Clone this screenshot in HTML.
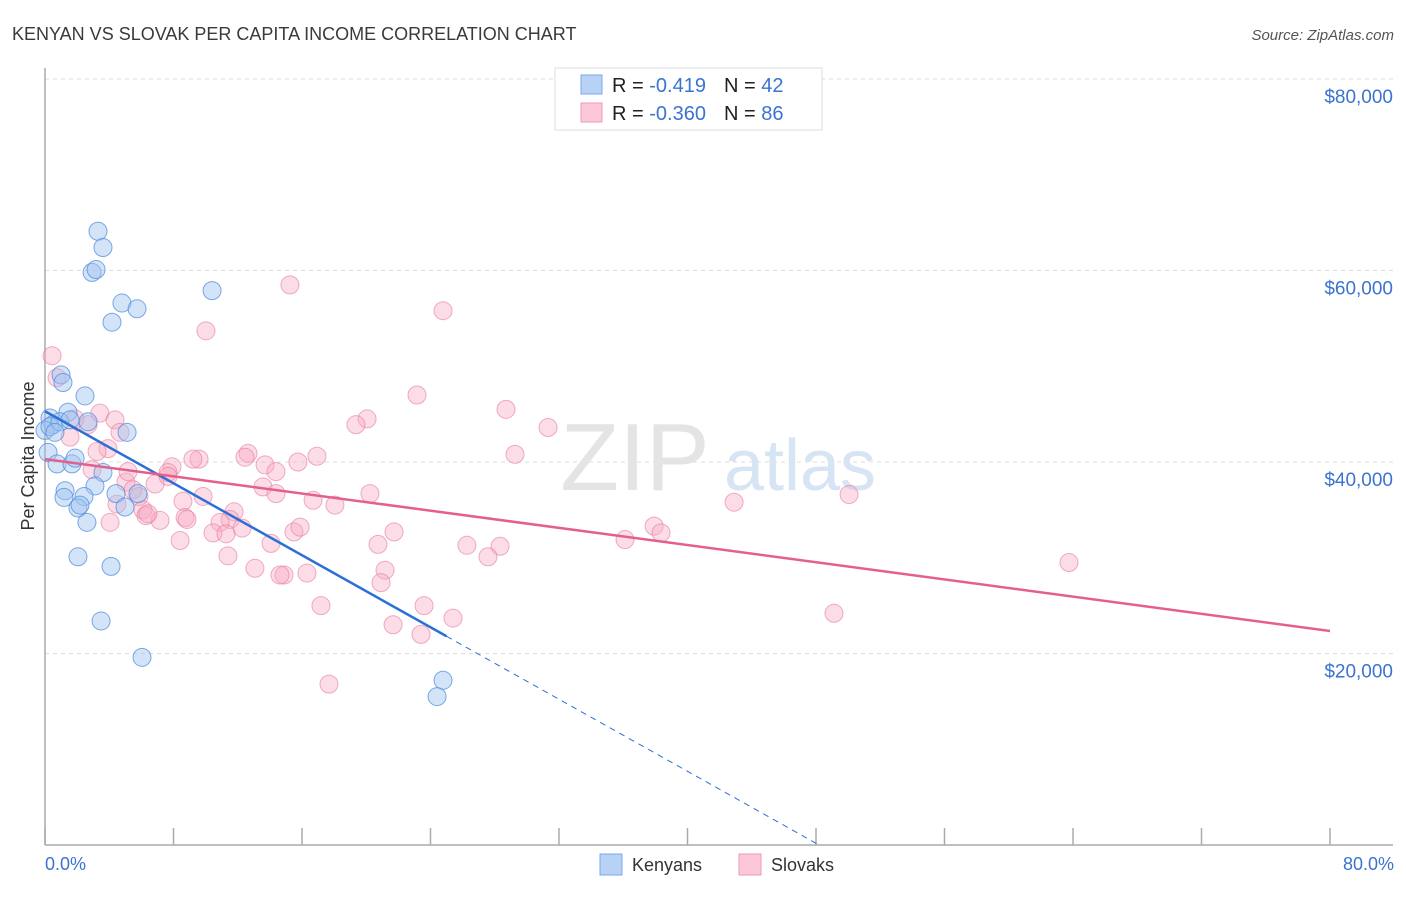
<!DOCTYPE html>
<html><head><meta charset="utf-8"><style>
body{margin:0;background:#fff;font-family:"Liberation Sans",sans-serif;}
svg text{font-family:"Liberation Sans",sans-serif;}
</style></head><body>
<svg id="chart" width="1406" height="892" viewBox="0 0 1406 892" xmlns="http://www.w3.org/2000/svg">
<text x="12" y="40" font-size="18" fill="#3a3a3a">KENYAN VS SLOVAK PER CAPITA INCOME CORRELATION CHART</text>
<text x="1394" y="40" font-size="15" fill="#555" text-anchor="end" font-style="italic">Source: ZipAtlas.com</text>
<g id="grid"></g>
<g>
<text x="635" y="490" font-size="96" fill="#e4e4e4" font-family="Liberation Serif" text-anchor="middle">ZIP</text>
<text x="800" y="490" font-size="72" fill="#d6e4f4" text-anchor="middle">atlas</text>
</g>
<line x1="45" y1="68" x2="45" y2="845" stroke="#aaa" stroke-width="1.5"/>
<line x1="45" y1="845" x2="1393" y2="845" stroke="#aaa" stroke-width="1.5"/>
<g id="ticks"></g>
<g id="ylabels"></g>
<text transform="translate(34,456) rotate(-90)" font-size="18" fill="#333" text-anchor="middle">Per Capita Income</text>
<text x="45" y="870" font-size="18" fill="#3b73d0">0.0%</text>
<text x="1394" y="870" font-size="18" fill="#3b73d0" text-anchor="end">80.0%</text>
<g id="pts"></g>
<g id="lines"></g>
<g>
<rect x="555" y="68" width="267" height="62" fill="#fff" stroke="#ddd"/>
<rect x="581" y="75" width="21" height="19" fill="#b8d2f5" stroke="#7aa8e6"/>
<rect x="581" y="103" width="21" height="19" fill="#fcc8d8" stroke="#ee9ab4"/>
<text x="612" y="92" font-size="20" fill="#222">R = <tspan fill="#3b73d0"> -0.419</tspan><tspan dx="18">N = </tspan><tspan fill="#3b73d0">42</tspan></text>
<text x="612" y="120" font-size="20" fill="#222">R = <tspan fill="#3b73d0">-0.360</tspan><tspan dx="18">N = </tspan><tspan fill="#3b73d0">86</tspan></text>
</g>
<g>
<rect x="600" y="854" width="22" height="21" fill="#b8d2f5" stroke="#7aa8e6"/>
<text x="632" y="871" font-size="18" fill="#333">Kenyans</text>
</g>
<g>
<rect x="739" y="854" width="22" height="21" fill="#fcc8d8" stroke="#ee9ab4"/>
<text x="771" y="871" font-size="18" fill="#333">Slovaks</text>
</g>
</svg>
<script>
const yTicks=[20000,40000,60000,80000];
const yTickLabels=["$20,000","$40,000","$60,000","$80,000"];
const xTicks=[0,8,16,24,32,40,48,56,64,72,80];
const kenyanX=[3.30,3.61,2.93,3.18,10.40,4.79,5.73,4.17,1.00,1.12,2.49,1.43,0.31,0.50,2.68,5.11,0.19,0.75,1.68,1.87,3.61,1.25,3.11,2.43,4.42,5.79,2.05,4.98,2.61,2.05,4.11,3.49,6.04,24.78,24.41,0.0,0.31,0.93,1.56,0.62,2.18,1.18];
const kenyanY=[64.1,62.4,59.8,60.1,57.9,56.6,56.0,54.6,49.1,48.3,46.9,45.2,44.6,43.9,44.2,43.1,41.0,39.8,39.8,40.4,38.9,37.0,37.5,36.4,36.7,36.7,35.2,35.3,33.7,30.1,29.1,23.4,19.6,17.2,15.5,43.3,43.7,44.2,44.4,43.1,35.5,36.3];
const slovakX=[0.44,0.75,3.42,4.36,1.87,2.68,1.56,3.92,4.67,3.24,15.25,10.02,24.78,23.16,28.70,20.05,19.36,31.32,29.26,12.64,12.45,9.59,9.21,7.91,7.66,2.93,5.04,5.48,5.85,6.10,6.85,8.59,9.84,13.70,13.57,14.38,15.75,16.93,16.69,18.05,20.23,14.38,8.72,7.16,6.29,11.77,11.52,10.90,10.46,12.27,14.07,15.50,15.88,20.73,21.73,26.27,28.33,27.58,21.17,20.92,11.39,13.07,14.88,14.63,16.31,8.41,17.18,21.67,23.60,23.41,25.40,17.68,36.11,37.92,38.35,42.90,50.06,63.75,49.12,6.41,4.05,11.27,8.84,4.48,5.17,7.66];
const slovakY=[51.1,48.8,45.1,44.4,44.5,43.9,42.6,41.4,43.1,41.1,58.5,53.7,55.8,47.0,45.5,44.5,43.9,43.6,40.8,40.9,40.5,40.3,40.3,39.5,38.9,39.2,37.9,37.1,36.4,35.0,37.7,35.9,36.4,39.7,37.4,36.7,40.0,40.6,36.0,35.5,36.7,39.0,34.2,33.9,34.4,34.8,34.0,33.7,32.6,33.1,31.5,32.7,33.2,31.4,32.7,31.3,31.2,30.1,28.7,27.4,30.2,28.9,28.2,28.2,28.4,31.8,25.0,23.0,25.0,22.0,23.7,16.8,31.9,33.3,32.6,35.8,36.6,29.5,24.2,34.6,33.7,32.5,34.0,35.6,39.0,38.5];
const kenyanTrend=[45.3,21.8];   // y at x=0 and x=25 (k$)
const kenyanTrendX=[0,25,48.2];
const slovakTrend=[40.3,22.35]; // y at x=0 and x=80
const slovakTrendX=[0,80];
const NS="http://www.w3.org/2000/svg";
const sx=v=>45+v/80*1285;
const sy=v=>845-v/20000*191.5;
function mk(tag,attrs,parent){const e=document.createElementNS(NS,tag);for(const k in attrs)e.setAttribute(k,attrs[k]);parent.appendChild(e);return e;}
const grid=document.getElementById('grid'),yl=document.getElementById('ylabels'),tk=document.getElementById('ticks');
yTicks.forEach((t,i)=>{
 const l=mk('line',{x1:45,x2:1393,y1:sy(t),y2:sy(t),stroke:'#ddd','stroke-dasharray':'4,4'},grid);
 
 
 const tx=mk('text',{x:1393,y:sy(t)+24,'font-size':19,fill:'#3b73d0','text-anchor':'end'},yl);
 tx.textContent=yTickLabels[i];
 
 
});
mk('line',{x1:45,x2:1393,y1:sy(80000),y2:sy(80000),stroke:'#ddd','stroke-dasharray':'4,4'},grid);
xTicks.forEach(t=>{
 const l=mk('line',{x1:sx(t),x2:sx(t),y1:828,y2:845,stroke:'#aaa','stroke-width':1.5},tk);
 
 
});
const pts=document.getElementById('pts');
slovakX.forEach((x,i)=>{
 const c=mk('circle',{cx:sx(x),cy:sy(slovakY[i]*1000),r:9,fill:'rgba(248,170,195,0.4)',stroke:'rgba(230,120,155,0.6)','stroke-width':1},pts);
 
 
});
kenyanX.forEach((x,i)=>{
 const c=mk('circle',{cx:sx(x),cy:sy(kenyanY[i]*1000),r:9,fill:'rgba(160,196,240,0.45)',stroke:'rgba(80,140,220,0.75)','stroke-width':1},pts);
 
 
});
const ln=document.getElementById('lines');
const kslope=(kenyanTrend[1]-kenyanTrend[0])/(kenyanTrendX[1]-kenyanTrendX[0]);
const ky=x=>(kenyanTrend[0]+kslope*x)*1000;
let a=mk('line',{x1:sx(kenyanTrendX[0]),y1:sy(ky(kenyanTrendX[0])),x2:sx(kenyanTrendX[1]),y2:sy(ky(kenyanTrendX[1])),stroke:'#2c6fd6','stroke-width':2.5},ln);


a=mk('line',{x1:sx(kenyanTrendX[1]),y1:sy(ky(kenyanTrendX[1])),x2:sx(kenyanTrendX[2]),y2:sy(ky(kenyanTrendX[2])),stroke:'#2c6fd6','stroke-width':1,'stroke-dasharray':'6,5'},ln);


a=mk('line',{x1:sx(slovakTrendX[0]),y1:sy(slovakTrend[0]*1000),x2:sx(slovakTrendX[1]),y2:sy(slovakTrend[1]*1000),stroke:'#e4608c','stroke-width':2.5},ln);


</script>
</body></html>
